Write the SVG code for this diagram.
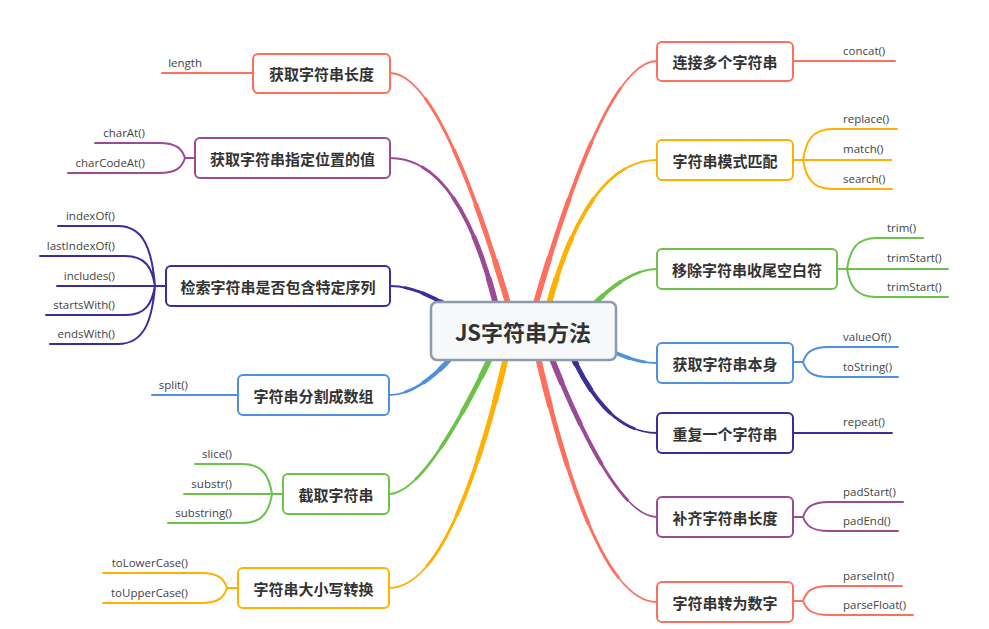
<svg xmlns="http://www.w3.org/2000/svg" xmlns:xlink="http://www.w3.org/1999/xlink" width="989" height="629" viewBox="0 0 989 629">
<style>
.node rect{fill:#fff;stroke-width:2}
.node text{font-family:"Noto Sans CJK SC","Noto Sans",sans-serif;font-weight:bold;font-size:15px;fill:#333;text-anchor:middle;dominant-baseline:central}
.leaf{font-family:"Open Sans","Liberation Sans",sans-serif;font-size:11.5px;fill:#444}
.l{text-anchor:end}
.t1{stroke-width:2.8;stroke-dasharray:85 300;stroke-linecap:butt}
.t2{stroke-width:3.8;stroke-dasharray:65 300;stroke-linecap:butt}
.t3{stroke-width:4.8;stroke-dasharray:45 300;stroke-linecap:butt}
.t4{stroke-width:5.8;stroke-dasharray:25 300;stroke-linecap:butt}
.lf{stroke-width:2}
.red{stroke:#FF6F5E}.org{stroke:#FFB000}.grn{stroke:#6CC24A}.blu{stroke:#4F8FE0}.dbl{stroke:#3A2F9A}.pur{stroke:#9B4A96}
</style>
<rect width="989" height="629" fill="#fff"/>
<g id="connectors" fill="none" stroke-width="1.8" stroke-linecap="round">
 <g class="red">
  <path id="m1" pathLength="100" d="M516,331 Q443,73 390,73"/>
  <use href="#m1" class="t1"/><use href="#m1" class="t2"/><use href="#m1" class="t3"/><use href="#m1" class="t4"/>
  <path class="lf" d="M253,73 H162"/>
 </g>
 <g class="pur">
  <path id="m2" pathLength="100" d="M502,331 Q465,158 390,158"/>
  <use href="#m2" class="t1"/><use href="#m2" class="t2"/><use href="#m2" class="t3"/><use href="#m2" class="t4"/>
  <path class="lf" d="M195,158 H185 M185,158 C182,149 177,143 159,143 H95 M185,158 C182,167 177,173 159,173 H68"/>
 </g>
 <g class="dbl">
  <path id="m3" pathLength="100" d="M475,325 Q425,286 390,286"/>
  <use href="#m3" class="t1"/><use href="#m3" class="t2"/><use href="#m3" class="t3"/><use href="#m3" class="t4"/>
  <path class="lf" d="M166,286 H155 M155,286 C152,250 144,226 118,226 H58 M155,286 C152,268 146,256 125,256 H40 M155,286 H57 M155,286 C152,303 146,315 126,315 H46 M155,286 C152,321 144,344 118,344 H50"/>
 </g>
 <g class="blu">
  <path id="m4" pathLength="100" d="M470,335 Q425,395 389,395"/>
  <use href="#m4" class="t1"/><use href="#m4" class="t2"/><use href="#m4" class="t3"/><use href="#m4" class="t4"/>
  <path class="lf" d="M238,395 H152"/>
 </g>
 <g class="grn">
  <path id="m5" pathLength="100" d="M503,331 Q428,494 389,494"/>
  <use href="#m5" class="t1"/><use href="#m5" class="t2"/><use href="#m5" class="t3"/><use href="#m5" class="t4"/>
  <path class="lf" d="M283,494 H272 M272,494 C269,476 263,464 242,464 H195 M272,494 H184 M272,494 C269,511 263,523 243,523 H168"/>
 </g>
 <g class="org">
  <path id="m6" pathLength="100" d="M512,331 Q455,588 389,588"/>
  <use href="#m6" class="t1"/><use href="#m6" class="t2"/><use href="#m6" class="t3"/><use href="#m6" class="t4"/>
  <path class="lf" d="M238,588 H227 M227,588 C224,579 219,573 201,573 H103 M227,588 C224,597 219,603 201,603 H103"/>
 </g>
 <g class="red">
  <path id="m7" pathLength="100" d="M528,331 Q603,61 657,61"/>
  <use href="#m7" class="t1"/><use href="#m7" class="t2"/><use href="#m7" class="t3"/><use href="#m7" class="t4"/>
  <path class="lf" d="M793,61 H895"/>
 </g>
 <g class="org">
  <path id="m8" pathLength="100" d="M542,331 Q582,160 657,160"/>
  <use href="#m8" class="t1"/><use href="#m8" class="t2"/><use href="#m8" class="t3"/><use href="#m8" class="t4"/>
  <path class="lf" d="M793,160 H803 M803,160 C806,141 812,129 833,129 H897 M803,160 H891 M803,160 C806,177 812,189 832,189 H892"/>
 </g>
 <g class="grn">
  <path id="m9" pathLength="100" d="M570,331 Q620,269 657,269"/>
  <use href="#m9" class="t1"/><use href="#m9" class="t2"/><use href="#m9" class="t3"/><use href="#m9" class="t4"/>
  <path class="lf" d="M837,269 H847 M847,269 C850,250 856,238 877,238 H923 M847,269 H948 M847,269 C850,286 856,297 876,297 H948"/>
 </g>
 <g class="blu">
  <path id="m10" pathLength="100" d="M585,335 Q625,363 657,363"/>
  <use href="#m10" class="t1"/><use href="#m10" class="t2"/><use href="#m10" class="t3"/><use href="#m10" class="t4"/>
  <path class="lf" d="M793,362 H803 M803,362 C806,353 811,347 829,347 H898 M803,362 C806,371 811,377 829,377 H898"/>
 </g>
 <g class="dbl">
  <path id="m11" pathLength="100" d="M562,331 Q600,433 657,433"/>
  <use href="#m11" class="t1"/><use href="#m11" class="t2"/><use href="#m11" class="t3"/><use href="#m11" class="t4"/>
  <path class="lf" d="M793,433 H892"/>
 </g>
 <g class="pur">
  <path id="m12" pathLength="100" d="M541,331 Q612,517 657,517"/>
  <use href="#m12" class="t1"/><use href="#m12" class="t2"/><use href="#m12" class="t3"/><use href="#m12" class="t4"/>
  <path class="lf" d="M793,517 H803 M803,517 C806,508 811,502 829,502 H903 M803,517 C806,525 811,531 829,531 H898"/>
 </g>
 <g class="red">
  <path id="m13" pathLength="100" d="M532,331 Q592,602 657,602"/>
  <use href="#m13" class="t1"/><use href="#m13" class="t2"/><use href="#m13" class="t3"/><use href="#m13" class="t4"/>
  <path class="lf" d="M793,601 H803 M803,601 C806,592 811,586 829,586 H902 M803,601 C806,609 811,615 829,615 H913"/>
 </g>
</g>
<g id="root">
 <rect x="431" y="302" width="185" height="58" rx="6" fill="#F7F8F9" stroke="#8D9BAA" stroke-width="2.5"/>
 <text x="523" y="331" font-family="Noto Sans CJK SC, Noto Sans, sans-serif" font-weight="bold" font-size="22" fill="#333" text-anchor="middle" dominant-baseline="central">JS字符串方法</text>
</g>
<g id="n-length" class="node"><rect class="red" x="253" y="54" width="137" height="39" rx="5"/><text x="321.5" y="73.5">获取字符串长度</text></g>
<g id="n-charat" class="node"><rect class="pur" x="195" y="138" width="195" height="40" rx="5"/><text x="292.5" y="158">获取字符串指定位置的值</text></g>
<g id="n-search" class="node"><rect class="dbl" x="166" y="266" width="224" height="40" rx="5"/><text x="278" y="286">检索字符串是否包含特定序列</text></g>
<g id="n-split" class="node"><rect class="blu" x="238" y="375" width="151" height="40" rx="5"/><text x="313.5" y="395">字符串分割成数组</text></g>
<g id="n-slice" class="node"><rect class="grn" x="283" y="474" width="106" height="40" rx="5"/><text x="336" y="494">截取字符串</text></g>
<g id="n-case" class="node"><rect class="org" x="238" y="568" width="151" height="40" rx="5"/><text x="313.5" y="588">字符串大小写转换</text></g>
<g id="n-concat" class="node"><rect class="red" x="657" y="42" width="136" height="39" rx="5"/><text x="725" y="61.5">连接多个字符串</text></g>
<g id="n-match" class="node"><rect class="org" x="657" y="140" width="136" height="40" rx="5"/><text x="725" y="160">字符串模式匹配</text></g>
<g id="n-trim" class="node"><rect class="grn" x="657" y="249" width="180" height="40" rx="5"/><text x="747" y="269">移除字符串收尾空白符</text></g>
<g id="n-self" class="node"><rect class="blu" x="657" y="343" width="136" height="40" rx="5"/><text x="725" y="363">获取字符串本身</text></g>
<g id="n-repeat" class="node"><rect class="dbl" x="657" y="413" width="136" height="40" rx="5"/><text x="725" y="433">重复一个字符串</text></g>
<g id="n-pad" class="node"><rect class="pur" x="657" y="497" width="136" height="40" rx="5"/><text x="725" y="517">补齐字符串长度</text></g>
<g id="n-num" class="node"><rect class="red" x="657" y="582" width="136" height="40" rx="5"/><text x="725" y="602">字符串转为数字</text></g>
<g id="leaves">
 <text class="leaf l" x="202" y="66.5">length</text>
 <text class="leaf l" x="145" y="136.5">charAt()</text>
 <text class="leaf l" x="145" y="166.5">charCodeAt()</text>
 <text class="leaf l" x="115" y="219.5">indexOf()</text>
 <text class="leaf l" x="115" y="249.5">lastIndexOf()</text>
 <text class="leaf l" x="115" y="279.5">includes()</text>
 <text class="leaf l" x="115" y="308.5">startsWith()</text>
 <text class="leaf l" x="115" y="337.5">endsWith()</text>
 <text class="leaf l" x="188" y="388.5">split()</text>
 <text class="leaf l" x="232" y="457.5">slice()</text>
 <text class="leaf l" x="232" y="487.5">substr()</text>
 <text class="leaf l" x="232" y="516.5">substring()</text>
 <text class="leaf l" x="188" y="566.5">toLowerCase()</text>
 <text class="leaf l" x="188" y="596.5">toUpperCase()</text>
 <text class="leaf" x="843" y="54.5">concat()</text>
 <text class="leaf" x="843" y="122.5">replace()</text>
 <text class="leaf" x="843" y="153">match()</text>
 <text class="leaf" x="843" y="182.5">search()</text>
 <text class="leaf" x="887" y="231.5">trim()</text>
 <text class="leaf" x="887" y="262">trimStart()</text>
 <text class="leaf" x="887" y="290.5">trimStart()</text>
 <text class="leaf" x="843" y="340.5">valueOf()</text>
 <text class="leaf" x="843" y="370.5">toString()</text>
 <text class="leaf" x="843" y="426">repeat()</text>
 <text class="leaf" x="843" y="495.5">padStart()</text>
 <text class="leaf" x="843" y="524.5">padEnd()</text>
 <text class="leaf" x="843" y="579.5">parseInt()</text>
 <text class="leaf" x="843" y="608.5">parseFloat()</text>
</g>
</svg>
